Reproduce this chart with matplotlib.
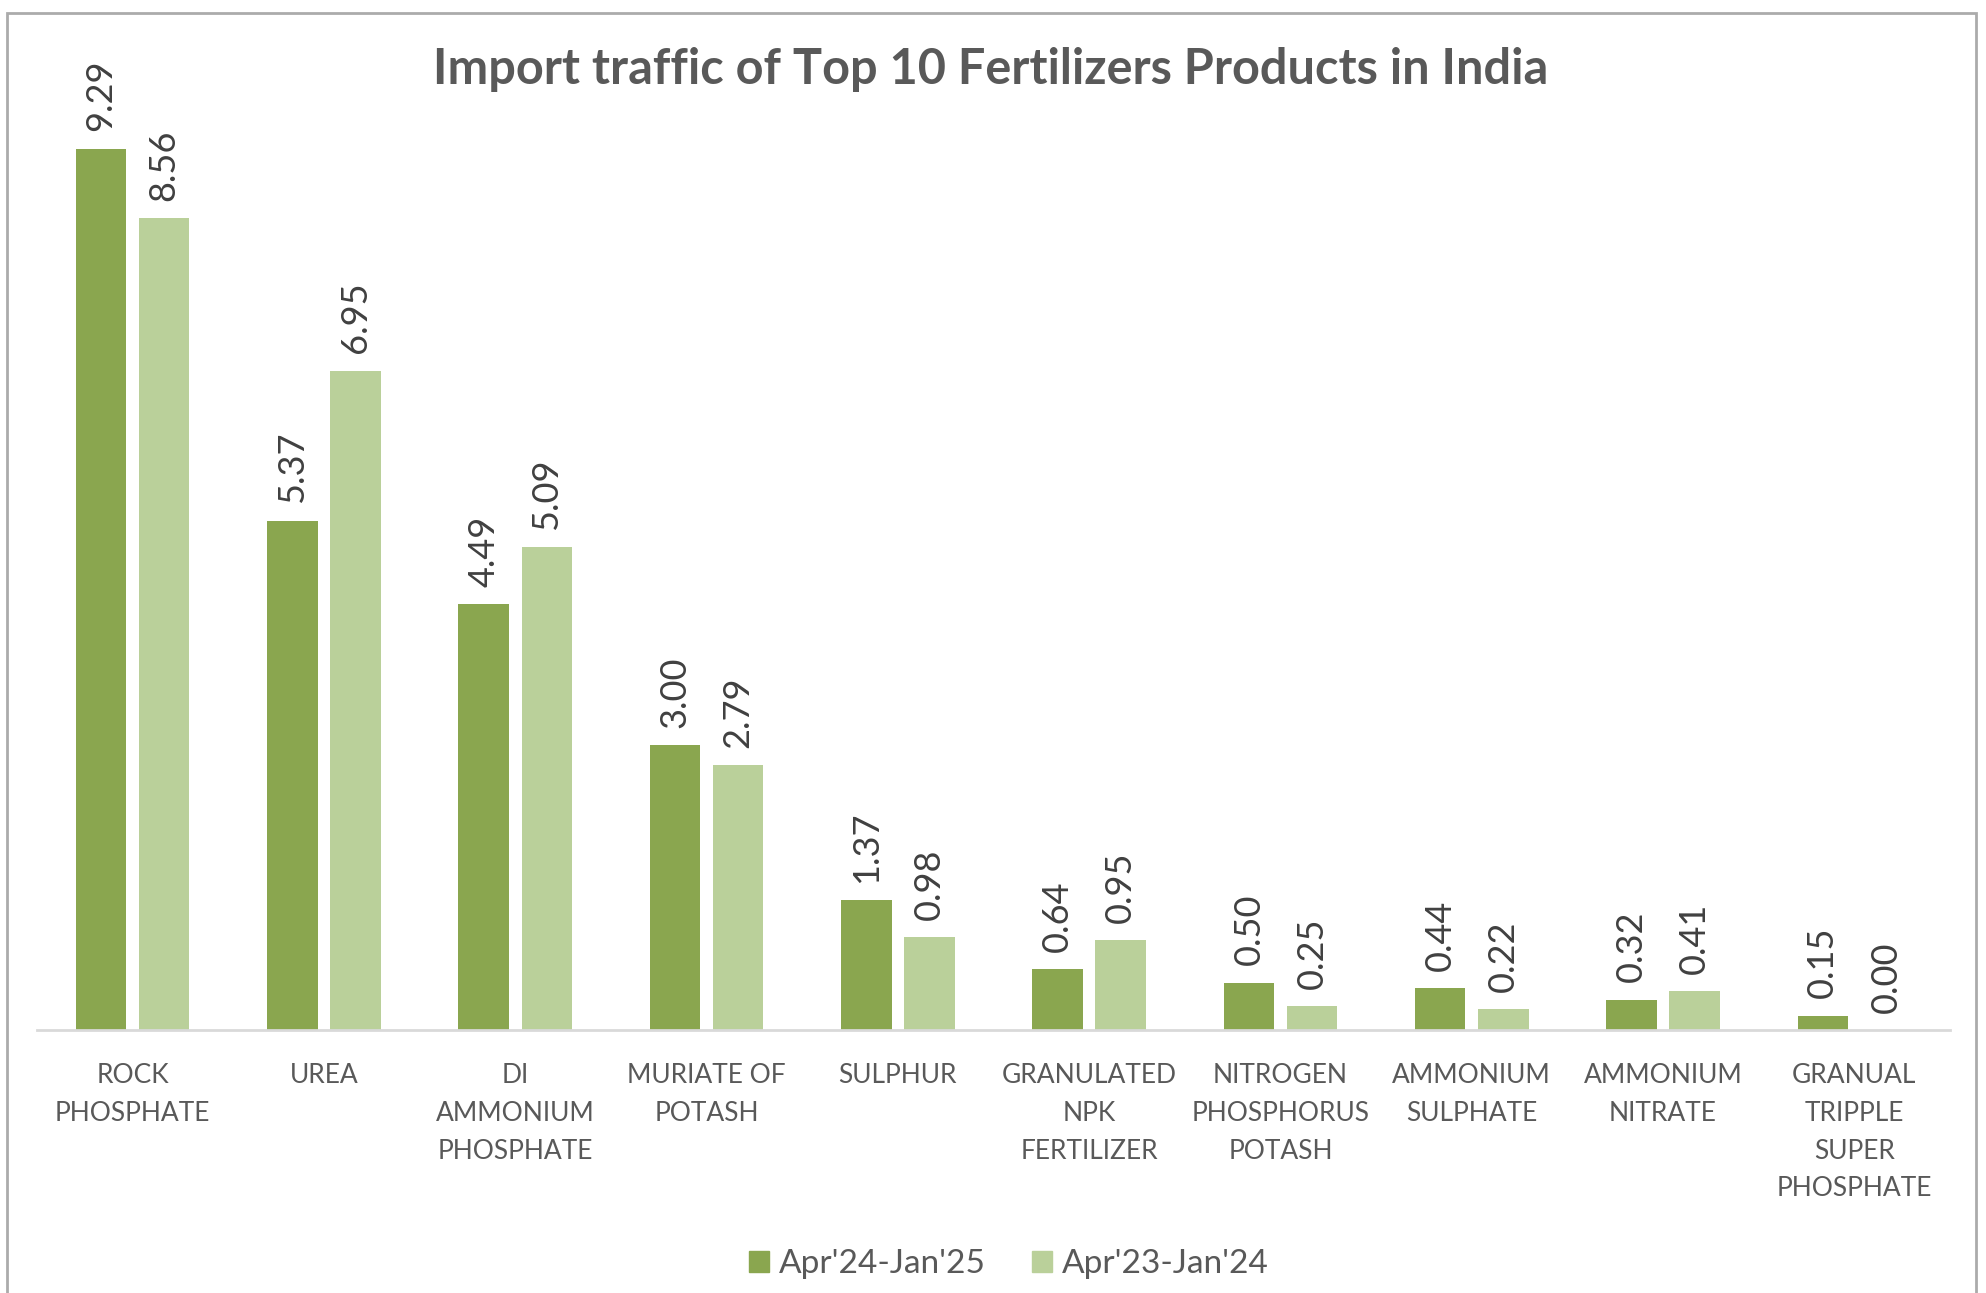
import matplotlib
matplotlib.use("Agg")
import matplotlib.pyplot as plt
from matplotlib.patches import Rectangle, Patch
import numpy as np

categories = ["ROCK\nPHOSPHATE", "UREA", "DI\nAMMONIUM\nPHOSPHATE", "MURIATE OF\nPOTASH",
              "SULPHUR", "GRANULATED\nNPK\nFERTILIZER", "NITROGEN\nPHOSPHORUS\nPOTASH",
              "AMMONIUM\nSULPHATE", "AMMONIUM\nNITRATE", "GRANUAL\nTRIPPLE\nSUPER\nPHOSPHATE"]
series_names = ["Apr'24-Jan'25", "Apr'23-Jan'24"]
values_2425 = [9.29, 5.37, 4.49, 3.00, 1.37, 0.64, 0.50, 0.44, 0.32, 0.15]
values_2324 = [8.56, 6.95, 5.09, 2.79, 0.98, 0.95, 0.25, 0.22, 0.41, 0.00]
title = "Import traffic of Top 10 Fertilizers Products in India"

W, H = 1986, 1293
fig = plt.figure(figsize=(W / 100, H / 100), dpi=100)
fig.patch.set_facecolor("white")

# chart frame
fig.patches.append(Rectangle((7 / W, -0.01), (1976 - 7) / W, 1 - 13 / H + 0.01,
                             transform=fig.transFigure, fill=False,
                             edgecolor="#ABABAB", linewidth=2))

ax = fig.add_axes([37 / W, 263 / H, 1913 / W, 948.7 / H])
ax.set_xlim(-0.5, len(categories) - 0.5)
ax.set_ylim(0, 10)

dark = "#8AA64F"
light = "#BAD09A"
bw = 0.264
off = 0.165
x = np.arange(len(categories))
ax.bar(x - off, values_2425, bw, color=dark, label=series_names[0])
ax.bar(x + off, values_2324, bw, color=light, label=series_names[1])

FONT = "Lato"
for xs, vals in ((x - off, values_2425), (x + off, values_2324)):
    for xi, v in zip(xs, vals):
        ax.annotate(f"{v:.2f}", (xi, v), xytext=(0, 12.5), textcoords="offset points",
                    rotation=90, ha="center", va="bottom", fontsize=26,
                    color="#404040", family=FONT)

for s in ["top", "right", "left"]:
    ax.spines[s].set_visible(False)
ax.spines["bottom"].set_color("#D9D9D9")
ax.spines["bottom"].set_linewidth(2)
ax.set_yticks([])
ax.set_xticks(x)
ax.set_xticklabels(categories, fontsize=19, color="#595959", family=FONT,
                   linespacing=1.63, va="top")
ax.tick_params(axis="x", length=0, pad=24)

fig.text(991 / W, 1 - 84 / H, title, ha="center", va="baseline",
         fontsize=35, fontweight="bold", color="#595959", family=FONT)

handles = [Patch(color=dark), Patch(color=light)]
fig.legend(handles, series_names, loc="center", bbox_to_anchor=(1009 / W, 1 - 1264 / H),
           ncol=2, frameon=False, handlelength=0.6, handleheight=0.6,
           handletextpad=0.3, columnspacing=1.4,
           prop={"family": FONT, "size": 24}, labelcolor="#595959")

fig.savefig("out.png", dpi=100)
